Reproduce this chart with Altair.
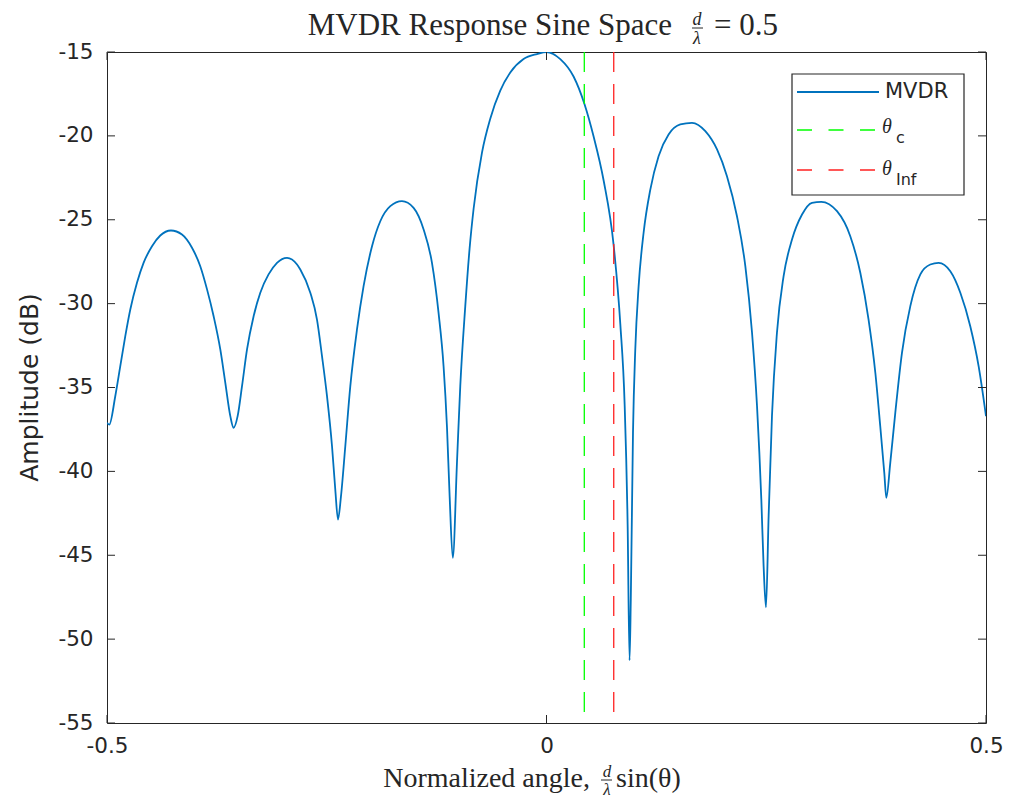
import altair as alt
import pandas as pd

# ---- data ----
ANGLE = [-0.5000, -0.4974, -0.4906, -0.4849, -0.4792, -0.4735, -0.4659, -0.4584, -0.4488, -0.4394,
         -0.4272, -0.4147, -0.4033, -0.3939, -0.3862, -0.3787, -0.3711, -0.3654, -0.3597, -0.3560,
         -0.3514, -0.3464, -0.3407, -0.3332, -0.3256, -0.3162, -0.3066, -0.2952, -0.2838, -0.2801,
         -0.2687, -0.2611, -0.2554, -0.2497, -0.2440, -0.2403, -0.2372, -0.2338, -0.2289, -0.2232,
         -0.2156, -0.2081, -0.1985, -0.1891, -0.1777, -0.1644, -0.1512, -0.1398, -0.1303, -0.1228,
         -0.1171, -0.1132, -0.1102, -0.1066, -0.1018, -0.0981, -0.0924, -0.0875, -0.0829, -0.0734,
         -0.0639, -0.0526, -0.0412, -0.0261, -0.0108, 0.0000, 0.0157, 0.0308, 0.0430, 0.0536,
         0.0650, 0.0763, 0.0840, 0.0889, 0.0923, 0.0945, 0.0959, 0.0984, 0.1010, 0.1048,
         0.1105, 0.1181, 0.1275, 0.1389, 0.1522, 0.1655, 0.1807, 0.1940, 0.2053, 0.2167,
         0.2262, 0.2338, 0.2395, 0.2444, 0.2470, 0.2497, 0.2527, 0.2565, 0.2622, 0.2697,
         0.2793, 0.2907, 0.3020, 0.3126, 0.3305, 0.3456, 0.3570, 0.3664, 0.3741, 0.3797,
         0.3843, 0.3866, 0.3911, 0.3968, 0.4044, 0.4139, 0.4253, 0.4366, 0.4461, 0.4594,
         0.4708, 0.4821, 0.4916, 0.5000]
AMP_DB = [-37.10, -37.21, -35.52, -33.73, -31.94, -30.35, -28.76, -27.57, -26.58, -25.94,
          -25.64, -25.88, -26.67, -27.77, -29.15, -30.75, -32.73, -34.72, -36.71, -37.40,
          -36.71, -34.92, -32.73, -30.75, -29.35, -28.26, -27.57, -27.27, -27.67, -27.97,
          -29.35, -30.95, -33.13, -35.52, -38.50, -41.08, -42.87, -41.48, -38.50, -34.92,
          -31.54, -28.96, -26.58, -25.09, -24.19, -23.89, -24.29, -25.58, -27.57, -30.55,
          -33.73, -37.38, -41.48, -45.16, -39.41, -34.92, -30.15, -26.72, -24.33, -21.00,
          -18.96, -17.30, -16.22, -15.42, -15.12, -15.00, -15.42, -16.46, -18.07, -20.04,
          -22.66, -26.48, -31.24, -36.01, -43.17, -51.27, -47.64, -37.68, -32.73, -28.96,
          -25.76, -23.20, -21.21, -19.92, -19.32, -19.22, -19.72, -20.81, -22.40, -24.79,
          -27.77, -31.72, -36.11, -41.68, -45.65, -48.11, -42.67, -36.71, -31.72, -28.37,
          -26.18, -24.69, -23.99, -23.93, -24.49, -25.98, -28.16, -30.95, -34.12, -37.31,
          -40.09, -41.58, -39.49, -36.51, -32.93, -30.15, -28.26, -27.67, -27.57, -28.07,
          -29.35, -31.35, -33.73, -36.71]
THETA_C = [0.043]
THETA_INF = [0.0765]
X_TICKS = [-0.5, 0, 0.5]
Y_TICKS = [-55, -50, -45, -40, -35, -30, -25, -20, -15]

TITLE_MAIN = "MVDR Response Sine Space"
TITLE_TAIL = "= 0.5"
XLABEL_HEAD = "Normalized angle,"
XLABEL_TAIL = "sin(θ)"
YLABEL = "Amplitude (dB)"
LEGEND_NAMES = ["MVDR", "θ", "θ"]
LEGEND_SUBS = ["c", "Inf"]

W, H = 879, 671
FG = "#262626"
BLUE = "#0072BD"
GREEN = "#00ff00"
RED = "#ff2020"
SANS = "DejaVu Sans"
SERIF = "Liberation Serif"
TICK_FS = 21.5

xs = alt.Scale(domain=[-0.5, 0.5], nice=False, zero=False)
ys = alt.Scale(domain=[-55, -15], nice=False, zero=False)

x_axis = alt.Axis(values=X_TICKS, labelExpr="'' + datum.value", ticks=False, domain=False,
                  grid=False, labelFont=SANS, labelFontSize=TICK_FS, labelColor=FG, labelPadding=12,
                  labelFlush=False, labelOverlap=False, title=None)
y_axis = alt.Axis(values=Y_TICKS, labelExpr="'' + datum.value", ticks=False, domain=False,
                  grid=False, labelFont=SANS, labelFontSize=TICK_FS, labelColor=FG, labelPadding=14,
                  labelOverlap=False, title=None)

X_ENC = lambda: alt.X("angle:Q", scale=xs, axis=x_axis)
Y_ENC = lambda: alt.Y("amp:Q", scale=ys, axis=y_axis)

curve = pd.DataFrame({"angle": ANGLE, "amp": AMP_DB})
line = alt.Chart(curve).mark_line(color=BLUE, strokeWidth=1.8, interpolate="monotone", clip=True).encode(
    x=X_ENC(), y=Y_ENC())


def vline(vals, color):
    return alt.Chart(pd.DataFrame({"angle": vals})).mark_rule(
        color=color, strokeWidth=1.3, strokeDash=[20, 12]).encode(x=X_ENC())


xt = pd.DataFrame({"angle": X_TICKS})
yt = pd.DataFrame({"amp": Y_TICKS})
xtick_b = alt.Chart(xt).mark_rule(color=FG, strokeWidth=1).encode(
    x=X_ENC(), y=alt.value(H - 8), y2=alt.value(H))
xtick_t = alt.Chart(xt).mark_rule(color=FG, strokeWidth=1).encode(
    x=X_ENC(), y=alt.value(0), y2=alt.value(8))
ytick_l = alt.Chart(yt).mark_rule(color=FG, strokeWidth=1).encode(
    y=Y_ENC(), x=alt.value(0), x2=alt.value(8))
ytick_r = alt.Chart(yt).mark_rule(color=FG, strokeWidth=1).encode(
    y=Y_ENC(), x=alt.value(W - 8), x2=alt.value(W))


def txt(s, x, y, size, font=SANS, align="left", baseline="alphabetic", style="normal", angle=0, color=FG):
    kw = dict(fontSize=size, font=font, align=align, baseline=baseline, fontStyle=style, color=color)
    if angle:
        kw["angle"] = angle
    return alt.Chart(pd.DataFrame({"t": [s]})).mark_text(**kw).encode(
        text="t:N", x=alt.value(x), y=alt.value(y))


def hbar(x1, x2, y, color=FG, width=1, dash=None):
    kw = dict(color=color, strokeWidth=width)
    if dash:
        kw["strokeDash"] = dash
    return alt.Chart(pd.DataFrame({"k": [0]})).mark_rule(**kw).encode(
        x=alt.value(x1), x2=alt.value(x2), y=alt.value(y))


# title pieces
title_layers = [
    txt(TITLE_MAIN, 565, -17, 31, font=SERIF, align="right"),
    txt("d", 590, -27, 18, font=SERIF, align="center", style="italic"),
    hbar(585, 596, -24),
    txt("λ", 590, -8, 18, font=SERIF, align="center", style="italic"),
    txt(TITLE_TAIL, 607, -17, 31, font=SERIF, align="left"),
]

# x label pieces
xlabel_layers = [
    txt(XLABEL_HEAD, 483, 735, 28, font=SERIF, align="right"),
    txt("d", 500, 725, 17, font=SERIF, align="center", style="italic"),
    hbar(494, 505, 728),
    txt("λ", 500, 743, 17, font=SERIF, align="center", style="italic"),
    txt(XLABEL_TAIL, 509, 735, 28, font=SERIF, align="left"),
]

ylabel = txt(YLABEL, -77, H / 2, 25, align="center", baseline="middle", angle=270)

# legend
legend_box = alt.Chart(pd.DataFrame({"k": [0]})).mark_rect(fill="white", stroke=FG, strokeWidth=1.2).encode(
    x=alt.value(685), x2=alt.value(857), y=alt.value(22), y2=alt.value(143))
legend_layers = [
    legend_box,
    hbar(690, 772, 40, color=BLUE, width=1.8),
    txt(LEGEND_NAMES[0], 778, 40, 21, baseline="middle"),
    hbar(690, 772, 78, color=GREEN, width=1.3, dash=[15, 16.5]),
    txt(LEGEND_NAMES[1], 775, 81, 20, font=SERIF, style="italic"),
    txt(LEGEND_SUBS[0], 789, 91, 16),
    hbar(690, 772, 118, color=RED, width=1.3, dash=[15, 16.5]),
    txt(LEGEND_NAMES[2], 775, 123, 20, font=SERIF, style="italic"),
    txt(LEGEND_SUBS[1], 789, 133, 16),
]

chart = alt.layer(
    line, vline(THETA_C, GREEN), vline(THETA_INF, RED),
    xtick_b, xtick_t, ytick_l, ytick_r,
    *title_layers, *xlabel_layers, ylabel, *legend_layers,
).properties(
    width=W, height=H,
    padding={"left": 99, "top": 44, "right": 17, "bottom": 78},
    autosize="none",
    background="white",
).configure_view(stroke=FG, strokeWidth=1)

chart.save("out.html", embed_options={"renderer": "svg", "actions": False})
